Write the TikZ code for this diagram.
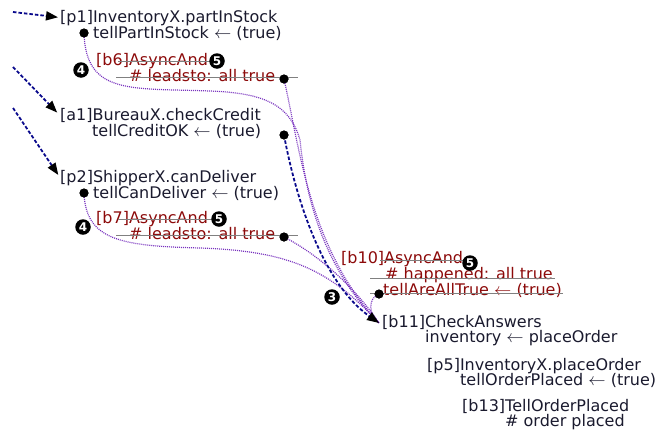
\documentclass[tikz,border=0pt]{standalone}
\usepackage{fontspec}
\setmainfont{DejaVu Sans}
\usetikzlibrary{arrows.meta}
\definecolor{ink}{RGB}{26,26,46}
\definecolor{redink}{RGB}{140,10,10}
\definecolor{navyline}{RGB}{10,10,140}
\definecolor{flow}{RGB}{120,50,190}
\definecolor{strikegrey}{RGB}{128,128,128}

\begin{document}
\begin{tikzpicture}[x=1pt,y=-1pt,
  txt/.style={anchor=base west, inner sep=0pt, text=ink, text height=11pt, text depth=2pt,
    font=\fontsize{16}{16}\selectfont},
  rtxt/.style={txt, text=redink},
  dotc/.style={circle, fill=black, minimum size=9pt, inner sep=0pt},
  numc/.style={circle, fill=black, text=white, minimum size=15.5pt, inner sep=0pt,
    font=\fontsize{12}{12}\selectfont\bfseries},
  strikeln/.style={draw=strikegrey, line width=1pt},
  callline/.style={draw=navyline, line width=1.8pt, dash pattern=on 3.5pt off 2pt},
  callarrow/.style={callline, -{Triangle[length=12pt,width=9pt,color=black]}},
  flowln/.style={draw=flow, line width=1.2pt, dash pattern=on 1pt off 1pt},
]
\useasboundingbox (0,0) rectangle (671,434);

% ---- activity lines ----
\node[txt] (p1a) at (60,22) {[p1]InventoryX.partInStock};
\node[txt] (p1b) at (93,38) {tellPartInStock $\leftarrow$ (true)};

\node[rtxt] (b6a) at (96,65) {[b6]AsyncAnd};
\node[rtxt] (b6b) at (129,81) {\# leadsto: all true};

\node[txt] (a1a) at (60,120) {[a1]BureauX.checkCredit};
\node[txt] (a1b) at (92,136) {tellCreditOK $\leftarrow$ (true)};

\node[txt] (p2a) at (60,182) {[p2]ShipperX.canDeliver};
\node[txt] (p2b) at (93,198) {tellCanDeliver $\leftarrow$ (true)};

\node[rtxt] (b7a) at (96,223) {[b7]AsyncAnd};
\node[rtxt] (b7b) at (129,239) {\# leadsto: all true};

\node[rtxt] (b10a) at (341,263) {[b10]AsyncAnd};
\node[rtxt] (b10b) at (385,279) {\# happened: all true};
\node[rtxt] (b10c) at (383,295) {tellAreAllTrue $\leftarrow$ (true)};

\node[txt] (b11a) at (382,327) {[b11]CheckAnswers};
\node[txt] (b11b) at (425,342) {inventory $\leftarrow$ placeOrder};

\node[txt] (p5a) at (427,370) {[p5]InventoryX.placeOrder};
\node[txt] (p5b) at (460,385) {tellOrderPlaced $\leftarrow$ (true)};

\node[txt] (b13a) at (462,411) {[b13]TellOrderPlaced};
\node[txt] (b13b) at (505,426) {\# order placed};

% ---- struck-out entries ----
\draw[strikeln] (118,61) -- (213,61);
\draw[strikeln] (116,77) -- (298,77);
\draw[strikeln] (118,219) -- (215,219);
\draw[strikeln] (116,235) -- (298,235);
\draw[strikeln] (380,260) -- (466,260);
\draw[strikeln] (370,278) -- (555,278);
\draw[strikeln] (370,293) -- (563,293);

% ---- join points ----
\node[dotc] (p1d) at (84,33) {};
\node[dotc] (b6d) at (284,79) {};
\node[dotc] (a1d) at (284,135) {};
\node[dotc] (p2d) at (84,193) {};
\node[dotc] (b7d) at (284,237) {};
\node[dotc] (b10d) at (379,294) {};
\coordinate (b11in) at ([xshift=-3pt,yshift=-0.5pt]b11a.west);

% ---- incoming calls ----
\coordinate (s1) at (13,12);
\coordinate (s2) at (13,67);
\coordinate (s3) at (13,108);
\draw[callarrow, shorten >=2pt] (s1) -- (p1a.west);
\draw[callarrow, shorten >=4pt] (s2) -- (a1a.west);
\draw[callarrow, shorten >=3pt] (s3) -- (p2a.west);

% ---- flows into CheckAnswers ----
\draw[flowln] (p1d.center) .. controls (86,95) and (130,88) .. (210,91)
  .. controls (265,93) and (290,105) .. (300,140)
  .. controls (306,200) and (325,270) .. (b11in);
\draw[flowln] (b6d.center) .. controls (300,150) and (310,250) .. (b11in);
\draw[flowln] (p2d.center) .. controls (86,240) and (120,246) .. (200,248)
  .. controls (290,251) and (330,270) .. (b11in);
\draw[flowln] (b7d.center) .. controls (310,250) and (350,280) .. (b11in);
\draw[flowln] (b10d.center) .. controls (368,298) and (368,314) .. (b11in);
\draw[callarrow] (a1d.center) .. controls (297,205) and (325,285) .. (b11in);

% ---- step markers ----
\node[numc] (m4a) at (81,70) {4};
\node[numc] (m5a) at (217,61) {5};
\node[numc] (m4b) at (83,227) {4};
\node[numc] (m5b) at (219,219) {5};
\node[numc] (m5c) at (470,263) {5};
\node[numc] (m3) at (332,297) {3};

% redraw join points on top of the flows
\foreach \d in {p1d,b6d,a1d,p2d,b7d,b10d} \fill (\d) circle (4.5pt);
\end{tikzpicture}
\end{document}
